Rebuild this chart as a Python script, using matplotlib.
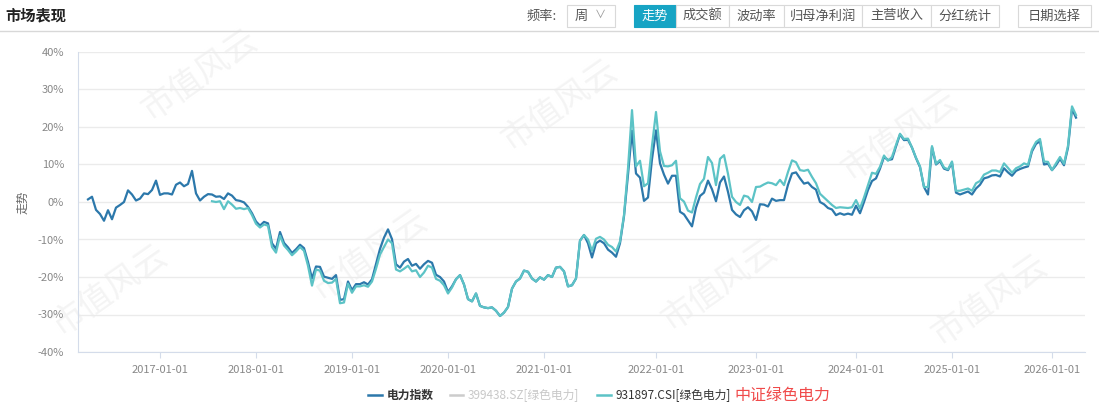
import numpy as np
import matplotlib
matplotlib.use("Agg")
import matplotlib.pyplot as plt
from matplotlib.patches import Rectangle

plt.rcParams['font.family'] = ['Noto Sans CJK SC', 'DejaVu Sans']

# weekly-ish samples (category axis), values in %
power_idx = [
    0.7, 1.4, -2.1, -3.2, -5.0, -2.2, -4.6, -1.5, -0.8, 0.0,
    3.1, 2.0, 0.4, 0.9, 2.3, 2.1, 3.2, 5.7, 1.9, 2.3,
    2.3, 2.0, 4.6, 5.2, 4.2, 4.8, 8.3, 2.3, 0.4, 1.4,
    2.1, 2.0, 1.4, 1.5, 0.8, 2.3, 1.7, 0.5, 0.3, -0.1,
    -1.3, -3.0, -5.2, -6.3, -5.3, -5.7, -11.0, -12.5, -8.0, -10.9,
    -12.1, -13.6, -12.6, -11.4, -12.3, -16.0, -20.4, -17.2, -17.3, -19.9,
    -20.2, -20.5, -19.5, -26.1, -25.9, -21.2, -23.5, -21.9, -21.9, -21.4,
    -22.0, -20.6, -16.6, -12.5, -9.5, -7.3, -9.9, -16.6, -17.5, -15.9,
    -15.2, -17.0, -16.5, -17.8, -16.6, -15.7, -16.2, -19.4, -20.0, -21.2,
    -24.0, -22.5, -20.6, -19.5, -22.0, -25.9, -26.5, -24.4, -27.7, -28.1,
    -28.3, -28.1, -29.0, -30.4, -29.5, -28.0, -23.1, -21.2, -20.4, -18.3,
    -18.6, -20.4, -21.2, -20.1, -20.7, -19.5, -20.0, -17.5, -17.3, -18.5,
    -22.5, -22.2, -20.4, -10.3, -8.8, -11.0, -14.8, -11.0, -10.3, -11.0,
    -12.7, -13.5, -14.6, -11.0, -3.8, 7.3, 19.0, 7.6, 6.5, 0.3,
    1.2, 11.4, 19.1, 10.3, 7.3, 4.9, 7.0, 7.0, -2.6, -3.3,
    -4.9, -6.5, -1.5, 1.6, 2.5, 5.7, 3.4, 0.2, 5.2, 6.8,
    2.7, -2.1, -3.3, -4.0, -2.2, -1.4, -2.5, -4.8, -0.6, -0.7,
    -1.2, 0.9, 0.3, 0.5, 0.5, 4.6, 7.6, 7.9, 6.3, 4.9,
    5.2, 4.0, 3.3, 0.0, -0.6, -1.6, -2.0, -3.5, -3.0, -3.4,
    -3.1, -3.4, -1.0, -3.0, 0.0, 3.2, 5.6, 6.3, 8.9, 12.0,
    11.2, 11.4, 14.8, 18.0, 16.5, 16.6, 14.5, 11.7, 9.3, 4.0,
    2.0, 14.6, 10.0, 10.9, 8.9, 8.5, 10.5, 2.5, 2.0, 2.4,
    2.8, 2.0, 3.6, 4.6, 6.3, 6.6, 7.1, 7.2, 6.8, 9.0,
    7.9, 7.0, 8.3, 8.8, 9.2, 9.5, 13.5, 15.5, 16.2, 10.0,
    10.2, 8.5, 9.8, 11.5, 9.8, 14.5, 24.8, 22.5,
]

# 931897.CSI starts later (sample 31)
csi_start = 31
green_csi = [
    0.2, 0.0, 0.2, -1.9, 0.2, -0.7, -1.8, -1.6, -1.9,
    -1.6, -3.5, -5.8, -6.8, -6.0, -6.3, -12.0, -13.5, -9.0, -11.6,
    -12.8, -14.2, -13.2, -12.0, -13.0, -17.0, -22.3, -18.0, -18.3, -21.0,
    -21.6, -21.5, -20.5, -27.0, -26.8, -21.8, -24.2, -22.5, -22.5, -22.2,
    -22.6, -21.2, -17.8, -14.0, -12.0, -10.0, -11.0, -18.0, -18.5, -17.8,
    -17.0, -18.5, -18.2, -20.0, -18.8, -17.0, -17.5, -20.5, -21.0, -22.2,
    -24.4, -22.8, -20.6, -19.5, -22.0, -25.9, -26.5, -24.4, -27.7, -28.1,
    -28.3, -28.1, -29.0, -30.4, -29.5, -28.0, -23.1, -21.2, -20.4, -18.3,
    -18.6, -20.4, -21.2, -20.1, -20.7, -19.5, -20.0, -17.5, -17.3, -18.5,
    -22.5, -22.2, -20.4, -10.3, -8.8, -10.0, -13.0, -9.8, -9.3, -10.0,
    -11.4, -12.0, -13.2, -10.5, -3.5, 9.0, 24.5, 9.5, 11.0, 4.2,
    5.0, 15.0, 24.0, 13.5, 9.6, 9.5, 9.8, 11.0, 1.0, 0.1,
    -2.3, -2.8, 1.2, 4.8, 6.2, 12.0, 10.4, 4.5, 11.5, 12.5,
    7.5, 1.4, 0.0, -0.8, 1.7, 1.4, 0.0, 4.0, 4.1, 4.7,
    5.2, 5.0, 4.5, 5.9, 4.5, 8.0, 11.1, 10.6, 8.5, 8.3,
    8.6, 6.7, 5.0, 2.2, 1.2, 0.2, -0.8, -1.6, -1.4, -1.5,
    -1.6, -1.4, 0.5, -1.7, 1.2, 4.5, 7.8, 7.5, 9.4, 12.4,
    11.0, 12.0, 15.2, 18.2, 16.8, 16.9, 14.5, 11.8, 9.5, 4.0,
    4.0, 14.9, 10.2, 11.2, 9.2, 8.7, 10.8, 3.0, 3.0, 3.3,
    3.6, 3.0, 5.0, 5.6, 7.3, 7.8, 8.4, 8.4, 8.0, 10.3,
    9.1, 7.8, 9.0, 9.5, 10.3, 9.9, 14.0, 16.0, 16.8, 10.8,
    10.7, 8.5, 10.3, 12.0, 10.2, 15.0, 25.5, 23.2,
]

year_labels = ['2017-01-01', '2018-01-01', '2019-01-01', '2020-01-01', '2021-01-01',
               '2022-01-01', '2023-01-01', '2024-01-01', '2025-01-01', '2026-01-01']
year_idx = [18, 42, 66, 90, 114, 142, 167, 192, 216, 241]

buttons = ['走势', '成交额', '波动率', '归母净利润', '主营收入', '分红统计']

W, H = 1099, 415
fig = plt.figure(figsize=(W / 100, H / 100), dpi=100)

def fx(px):
    return px / W

def fy(py):
    return 1 - py / H

# faint watermark, kept behind the chart
for (px, py) in [(200, 75), (560, 105), (900, 135), (370, 255), (720, 285), (990, 300), (110, 290)]:
    fig.text(fx(px), fy(py), '市值风云', fontsize=24, color='#f4f4f4', rotation=35,
             ha='center', va='center', zorder=-5)

# header
fig.text(fx(5), fy(15), '市场表现', fontsize=11, fontweight='bold', color='#222222', va='center')
fig.add_artist(plt.Line2D([0, 1], [fy(31), fy(31)], color='#d8d8d8', lw=1))

fig.text(fx(527), fy(16), '频率:', fontsize=9.5, color='#555555', va='center')
fig.add_artist(Rectangle((fx(567), fy(27)), fx(48), 22 / H, fill=False, ec='#d9d9d9', lw=0.8))
fig.text(fx(575), fy(16), '周', fontsize=9.5, color='#555555', va='center')
fig.text(fx(595), fy(15), '∨', fontsize=8, color='#999999', va='center')

bx = [634, 676, 729, 784, 862, 931, 999]
for i, b in enumerate(buttons):
    x0, x1 = bx[i], bx[i + 1]
    active = i == 0
    fig.add_artist(Rectangle((fx(x0), fy(27)), fx(x1 - x0), 22 / H,
                             fc='#17a4c4' if active else 'white', ec='#17a4c4' if active else '#d9d9d9', lw=0.8))
    fig.text(fx((x0 + x1) / 2), fy(16), b, fontsize=9.5, ha='center', va='center',
             color='white' if active else '#555555')

fig.add_artist(Rectangle((fx(1018), fy(27)), fx(73), 22 / H, fill=False, ec='#d9d9d9', lw=0.8))
fig.text(fx(1054.5), fy(16), '日期选择', fontsize=9.5, ha='center', va='center', color='#555555')

# chart
ax = fig.add_axes([fx(78), fy(352), fx(1085 - 78), 300 / H])
ax.set_zorder(2)
ax.patch.set_alpha(0)

x_all = np.arange(len(power_idx))
x_csi = np.arange(csi_start, csi_start + len(green_csi))
ax.plot(x_all, power_idx, color='#2c78ab', lw=1.6, zorder=3)
ax.plot(x_csi, green_csi, color='#5cc3c6', lw=1.6, zorder=4)

ax.set_xlim(-2.5, 249.25)
ax.set_ylim(-40, 40)
ax.set_yticks(range(-40, 41, 10))
ax.set_yticklabels([f'{v}%' for v in range(-40, 41, 10)])
ax.set_xticks(year_idx)
ax.set_xticklabels(year_labels)
ax.grid(axis='y', color='#ebebeb', lw=1)
ax.set_axisbelow(True)
for s in ['top', 'right']:
    ax.spines[s].set_visible(False)
for s in ['left', 'bottom']:
    ax.spines[s].set_color('#d4dcea')
ax.tick_params(axis='y', length=0, labelsize=8, colors='#888888', pad=10)
ax.tick_params(axis='x', length=4, color='#d4dcea', labelsize=8, labelcolor='#888888', pad=5)
ax.set_ylabel('走势', fontsize=8.5, color='#666666', labelpad=6)

# legend
ly = fy(395)
fig.add_artist(plt.Line2D([fx(368), fx(382)], [ly, ly], color='#2c78ab', lw=1.8))
fig.text(fx(387), ly, '电力指数', fontsize=8.5, va='center', color='#333333', fontweight='bold')
fig.add_artist(plt.Line2D([fx(450), fx(463)], [ly, ly], color='#cccccc', lw=1.8))
fig.text(fx(468), ly, '399438.SZ[绿色电力]', fontsize=8.5, va='center', color='#c8c8c8')
fig.add_artist(plt.Line2D([fx(597), fx(611)], [ly, ly], color='#5cc3c6', lw=1.8))
fig.text(fx(616), ly, '931897.CSI[绿色电力]', fontsize=8.5, va='center', color='#333333')
fig.text(fx(734), ly, '中证绿色电力', fontsize=11.5, va='center', color='#f04a4a')

fig.savefig('out.png', dpi=100)
